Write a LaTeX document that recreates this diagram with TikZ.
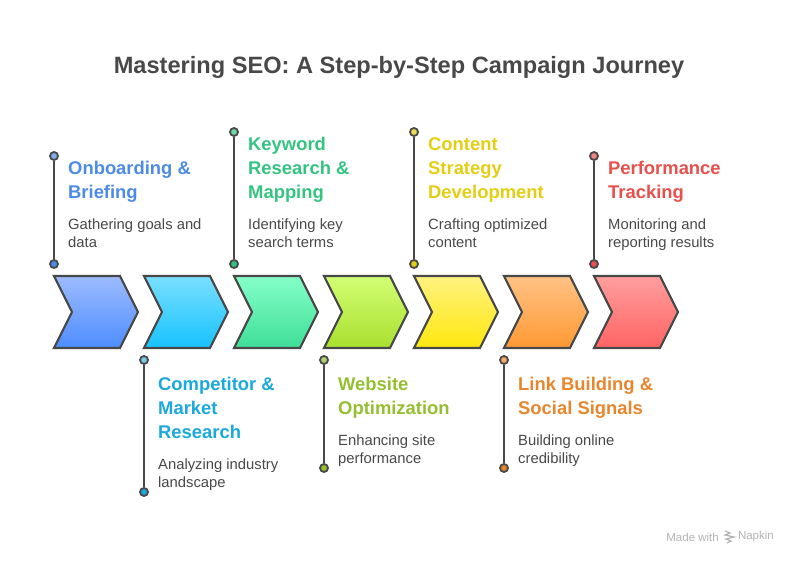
\documentclass[tikz,border=0pt]{standalone}
\usepackage{fontspec}
\setmainfont{Liberation Sans}
\definecolor{ink}{HTML}{484848}
\definecolor{bluetxt}{HTML}{4C8BE8}
\definecolor{skytxt}{HTML}{1AA9DC}
\definecolor{greentxt}{HTML}{33C481}
\definecolor{limetxt}{HTML}{95BE30}
\definecolor{yellowtxt}{HTML}{E3CE12}
\definecolor{orangetxt}{HTML}{E8862E}
\definecolor{redtxt}{HTML}{E8504C}
\definecolor{blueA}{HTML}{9DBBFF}\definecolor{blueB}{HTML}{4D8DFF}
\definecolor{skyA}{HTML}{7ADFFF}\definecolor{skyB}{HTML}{17C2FF}
\definecolor{greenA}{HTML}{85FFC8}\definecolor{greenB}{HTML}{3FDE98}
\definecolor{limeA}{HTML}{D2FF75}\definecolor{limeB}{HTML}{A9DF2E}
\definecolor{yellowA}{HTML}{FFF27F}\definecolor{yellowB}{HTML}{FFE80F}
\definecolor{orangeA}{HTML}{FFC285}\definecolor{orangeB}{HTML}{FF9933}
\definecolor{redA}{HTML}{FF9E9E}\definecolor{redB}{HTML}{FF6464}
\tikzset{
  chev/.style={draw=ink,line width=2.2pt,line join=miter},
  stem/.style={draw=ink,line width=2.2pt},
  dot/.style={circle,draw=ink,line width=1.8pt,minimum size=8pt,inner sep=0pt},
  head/.style={anchor=north west,inner sep=0pt,align=left,font=\fontsize{18.4}{24}\selectfont\bfseries},
  desc/.style={anchor=north west,inner sep=0pt,align=left,text=ink,font=\fontsize{14.8}{18}\selectfont},
}
\begin{document}
\begin{tikzpicture}[x=1pt,y=-1pt]
  \useasboundingbox (0,0) rectangle (798,564);
  \node[text=ink,font=\fontsize{23.6}{30}\selectfont\bfseries] (title) at (399,67) {Mastering SEO: A Step-by-Step Campaign Journey};
  % chevrons
  \path[chev,top color=blueA,bottom color=blueB] (54,276) -- (120,276) -- (138,312) -- (120,348) -- (54,348) -- (72,312) -- cycle;
  \path[chev,top color=skyA,bottom color=skyB] (144,276) -- (210,276) -- (228,312) -- (210,348) -- (144,348) -- (162,312) -- cycle;
  \path[chev,top color=greenA,bottom color=greenB] (234,276) -- (300,276) -- (318,312) -- (300,348) -- (234,348) -- (252,312) -- cycle;
  \path[chev,top color=limeA,bottom color=limeB] (324,276) -- (390,276) -- (408,312) -- (390,348) -- (324,348) -- (342,312) -- cycle;
  \path[chev,top color=yellowA,bottom color=yellowB] (414,276) -- (480,276) -- (498,312) -- (480,348) -- (414,348) -- (432,312) -- cycle;
  \path[chev,top color=orangeA,bottom color=orangeB] (504,276) -- (570,276) -- (588,312) -- (570,348) -- (504,348) -- (522,312) -- cycle;
  \path[chev,top color=redA,bottom color=redB] (594,276) -- (660,276) -- (678,312) -- (660,348) -- (594,348) -- (612,312) -- cycle;
  % stems
  \node[dot,fill=bluetxt!70!white] (a1) at (54,156) {};
  \node[dot,fill=bluetxt] (a2) at (54,264) {};
  \node[dot,fill=skytxt!60!white] (b1) at (144,360) {};
  \node[dot,fill=skytxt] (b2) at (144,492) {};
  \node[dot,fill=greentxt!70!white] (c1) at (234,132) {};
  \node[dot,fill=greentxt] (c2) at (234,264) {};
  \node[dot,fill=limetxt!70!white] (d1) at (324,360) {};
  \node[dot,fill=limetxt] (d2) at (324,468) {};
  \node[dot,fill=yellowtxt!70!white] (e1) at (414,132) {};
  \node[dot,fill=yellowtxt] (e2) at (414,264) {};
  \node[dot,fill=orangetxt!70!white] (f1) at (504,360) {};
  \node[dot,fill=orangetxt] (f2) at (504,468) {};
  \node[dot,fill=redtxt!70!white] (g1) at (594,156) {};
  \node[dot,fill=redtxt] (g2) at (594,264) {};
  \draw[stem] (a1) to (a2);
  \draw[stem] (b1) to (b2);
  \draw[stem] (c1) to (c2);
  \draw[stem] (d1) to (d2);
  \draw[stem] (e1) to (e2);
  \draw[stem] (f1) to (f2);
  \draw[stem] (g1) to (g2);
  % labels
  \node[head,text=bluetxt] (a3) at (68,161) {Onboarding \&\\Briefing};
  \node[desc] (a4) at (68,219) {Gathering goals and\\data};
  \node[head,text=skytxt] (b3) at (158,377) {Competitor \&\\Market\\Research};
  \node[desc] (b4) at (158,459) {Analyzing industry\\landscape};
  \node[head,text=greentxt] (c3) at (248,137) {Keyword\\Research \&\\Mapping};
  \node[desc] (c4) at (248,219) {Identifying key\\search terms};
  \node[head,text=limetxt] (d3) at (338,377) {Website\\Optimization};
  \node[desc] (d4) at (338,435) {Enhancing site\\performance};
  \node[head,text=yellowtxt] (e3) at (428,137) {Content\\Strategy\\Development};
  \node[desc] (e4) at (428,219) {Crafting optimized\\content};
  \node[head,text=orangetxt] (f3) at (518,377) {Link Building \&\\Social Signals};
  \node[desc] (f4) at (518,435) {Building online\\credibility};
  \node[head,text=redtxt] (g3) at (608,161) {Performance\\Tracking};
  \node[desc] (g4) at (608,219) {Monitoring and\\reporting results};
  % footer
  \node[anchor=east,inner sep=0pt,text=black!30,font=\fontsize{11.5}{14}\selectfont] (napkin) at (774,537) {Napkin};
  \node[anchor=east,inner sep=0pt,text=black!30,font=\fontsize{11.5}{14}\selectfont] (made) at (719,537) {Made with};
  \draw[black!30,line width=1.2pt] (725,531) -- (730,533) -- (725,535) -- (734,537) -- (726,539) -- (731,541) -- (727,543);
\end{tikzpicture}
\end{document}
